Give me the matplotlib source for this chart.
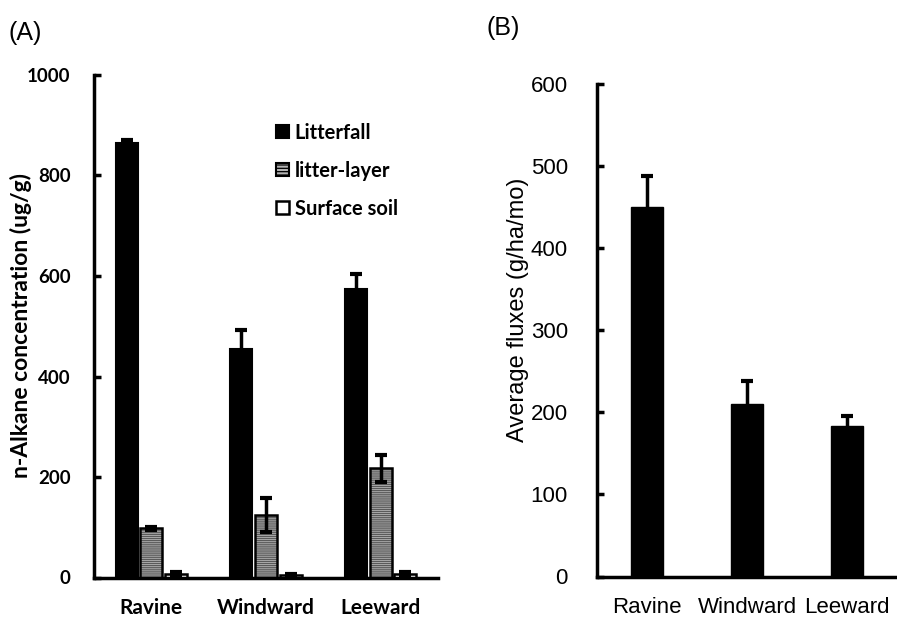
import matplotlib
matplotlib.use("Agg")
import matplotlib.pyplot as plt
import numpy as np
from matplotlib.patches import Patch

# ---- Data ----
sites = ["Ravine", "Windward", "Leeward"]
series_names = ["Litterfall", "litter-layer", "Surface soil"]
litterfall = [865, 455, 575]
litterfall_err = [5, 38, 28]
litter_layer = [98, 125, 217]
litter_layer_err = [3, 34, 26]
surface_soil = [6, 5, 7]
surface_soil_err = [4, 2, 3]
a_yticks = [0, 200, 400, 600, 800, 1000]

fluxes = [450, 210, 183]
fluxes_err = [38, 28, 13]
b_yticks = [0, 100, 200, 300, 400, 500, 600]

plt.rcParams['hatch.linewidth'] = 0.9
plt.rcParams['hatch.color'] = '#5a5a5a'

fig = plt.figure(figsize=(8.97, 6.21), dpi=100)

boldfont = "Lato"
regfont = "Liberation Sans"

# ---------- Panel A ----------
W, H = 897, 621
axA = fig.add_axes([94 / W, (621 - 577.5) / H, 344 / W, 502.5 / H])
x = np.arange(len(sites))
bw = 0.19
off = 0.215
ekw = dict(ecolor='black', elinewidth=2.5, capsize=4, capthick=3, zorder=5)

axA.bar(x - off, litterfall, bw, color='black', edgecolor='black', linewidth=1.5, zorder=2)
axA.errorbar(x - off, litterfall, yerr=litterfall_err, fmt='none', **ekw)

axA.bar(x, litter_layer, bw, color='#b4b4b4', edgecolor='#5a5a5a', linewidth=0,
        hatch='--------', zorder=2)
axA.bar(x, litter_layer, bw, fill=False, edgecolor='black', linewidth=1.8, zorder=3)
axA.errorbar(x, litter_layer, yerr=litter_layer_err, fmt='none', **ekw)

axA.bar(x + off, surface_soil, bw, color='white', edgecolor='black', linewidth=1.8, zorder=2)
axA.errorbar(x + off, surface_soil, yerr=surface_soil_err, fmt='none', **ekw)

axA.set_xlim(-0.5, 2.5)
axA.set_ylim(0, 1000)
axA.set_yticks(a_yticks)
axA.set_yticklabels([str(t) for t in a_yticks], fontfamily=boldfont,
                    fontweight='bold', fontsize=13.5)
axA.set_xticks(x)
axA.set_xticklabels(sites, fontfamily=boldfont, fontweight='bold', fontsize=15)
axA.tick_params(axis='y', direction='in', length=5, width=2.5, pad=17)
axA.tick_params(axis='x', length=0, pad=15)
for s in ['top', 'right']:
    axA.spines[s].set_visible(False)
for s in ['left', 'bottom']:
    axA.spines[s].set_linewidth(2.5)

handles = [
    Patch(facecolor='black', edgecolor='black', linewidth=1.5),
    Patch(facecolor='#b4b4b4', edgecolor='black', linewidth=1.5, hatch='-----'),
    Patch(facecolor='white', edgecolor='black', linewidth=1.8),
]
leg = axA.legend(handles, series_names, loc='upper left', bbox_to_anchor=(0.53, 0.905),
                 frameon=False, borderpad=0, borderaxespad=0, handlelength=0.62,
                 handleheight=0.62, handletextpad=0.3, labelspacing=0.9,
                 prop=dict(family=boldfont, weight='bold', size=14.5))

fig.text(21 / W, 1 - 326 / H, "n-Alkane concentration (ug/g)", rotation=90,
         ha='center', va='center', fontfamily=boldfont, fontweight='bold', fontsize=16.5)
fig.text(8 / W, 1 - 33 / H, "(A)", ha='left', va='center', fontfamily=regfont, fontsize=18)

# ---------- Panel B ----------
axB = fig.add_axes([597 / W, (621 - 576.5) / H, 300 / W, 492.5 / H])
xb = np.arange(len(sites))
axB.bar(xb, fluxes, 0.32, color='black', edgecolor='black', zorder=2)
axB.errorbar(xb, fluxes, yerr=fluxes_err, fmt='none', **ekw)
axB.set_xlim(-0.5, 2.5)
axB.set_ylim(0, 600)
axB.set_yticks(b_yticks)
axB.set_yticklabels([str(t) for t in b_yticks], fontfamily=regfont, fontsize=16)
axB.set_xticks(xb)
axB.set_xticklabels(sites, fontfamily=regfont, fontsize=16)
axB.tick_params(axis='y', direction='in', length=5, width=2.5, pad=21)
axB.tick_params(axis='x', length=0, pad=15)
for s in ['top', 'right']:
    axB.spines[s].set_visible(False)
for s in ['left', 'bottom']:
    axB.spines[s].set_linewidth(2.5)

fig.text(518 / W, 1 - 310 / H, "Average fluxes (g/ha/mo)", rotation=90,
         ha='center', va='center', fontfamily=regfont, fontsize=17)
fig.text(486 / W, 1 - 28 / H, "(B)", ha='left', va='center', fontfamily=regfont, fontsize=18)

fig.savefig("out.png", dpi=100)
